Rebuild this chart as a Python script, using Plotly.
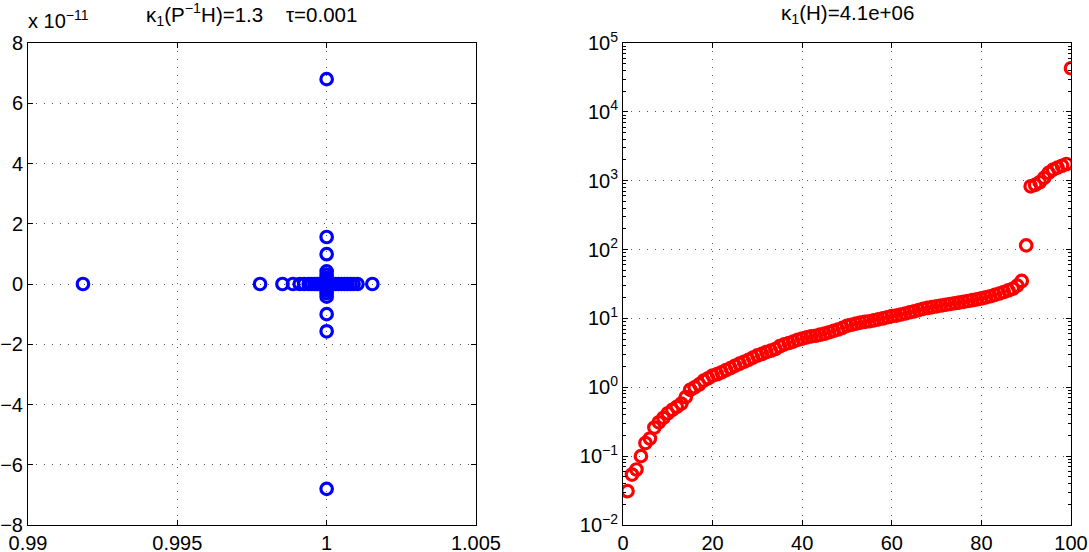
import plotly.graph_objects as go

# ---------------- data ----------------
# Left panel: eigenvalues of P^-1 H (real part, imaginary part in units of 1e-11)
eig_real = [0.99184, 0.99777, 0.99852, 0.99887, 0.99910, 0.99925, 0.99940, 0.99950,
            0.99960, 0.99968, 0.99975, 0.99980, 0.99985, 0.99990, 0.99995, 1.00000,
            1.00005, 1.00010, 1.00015, 1.00020, 1.00030, 1.00040, 1.00050, 1.00060,
            1.00070, 1.00080, 1.00090, 1.00103, 1.00153,
            1.0, 1.0, 1.0, 1.0, 1.0, 1.0, 1.0, 1.0, 1.0, 1.0, 1.0, 1.0, 1.0, 1.0, 1.0, 1.0]
eig_imag = [0.0] * 29 + [6.8, 1.56, 0.99, 0.42, 0.30, 0.20, 0.12, 0.06,
                         -0.06, -0.12, -0.20, -0.30, -0.42, -1.0, -1.57, -6.8]

# Right panel: sorted eigenvalues of H
h_index = list(range(1, 101))
h_eigs = [0.031, 0.054, 0.064, 0.10, 0.155, 0.18, 0.26, 0.31, 0.36, 0.42,
          0.47, 0.52, 0.58, 0.72, 0.92, 1.0, 1.1, 1.25, 1.35, 1.48,
          1.55, 1.65, 1.78, 1.9, 2.05, 2.2, 2.35, 2.5, 2.7, 2.9,
          3.05, 3.25, 3.4, 3.6, 3.95, 4.2, 4.4, 4.6, 4.9, 5.1,
          5.3, 5.5, 5.6, 5.8, 6.0, 6.3, 6.6, 6.9, 7.3, 7.8,
          8.1, 8.4, 8.7, 8.9, 9.1, 9.4, 9.7, 10.0, 10.4, 10.8,
          11.0, 11.4, 11.8, 12.3, 12.7, 13.2, 13.8, 14.2, 14.6, 15.0,
          15.4, 15.8, 16.2, 16.6, 17.0, 17.4, 17.9, 18.4, 18.9, 19.5,
          20.2, 21.0, 22.0, 23.0, 24.2, 25.5, 27.0, 30.0, 35.0, 115.0,
          830.0, 870.0, 950.0, 1100.0, 1300.0, 1450.0, 1550.0, 1650.0, 1750.0, 43000.0]

left_xticks = [0.99, 0.995, 1.0, 1.005]
left_xticktext = ["0.99", "0.995", "1", "1.005"]
left_yticks = [-8, -6, -4, -2, 0, 2, 4, 6, 8]
right_xticks = [0, 20, 40, 60, 80, 100]
right_yexps = [-2, -1, 0, 1, 2, 3, 4, 5]

left_title = "κ<sub>1</sub>(P<sup>−1</sup>H)=1.3&nbsp;&nbsp;&nbsp;&nbsp;τ=0.001"
right_title = "κ<sub>1</sub>(H)=4.1e+06"
left_scale = "x 10<sup>−11</sup>"

# ---------------- figure ----------------
FONT = "Liberation Sans, Arial, Helvetica, sans-serif"
fig = go.Figure()

fig.add_trace(go.Scatter(
    x=eig_real, y=eig_imag, mode="markers", xaxis="x", yaxis="y",
    marker=dict(symbol="circle-open", size=11.5, color="#0000ff",
                line=dict(width=3.2, color="#0000ff")),
    showlegend=False, hoverinfo="skip"))

fig.add_trace(go.Scatter(
    x=h_index, y=h_eigs, mode="markers", xaxis="x2", yaxis="y2",
    marker=dict(symbol="circle-open", size=11.5, color="#ff0000",
                line=dict(width=3.2, color="#ff0000")),
    showlegend=False, hoverinfo="skip"))

axis_common = dict(
    showline=True, linecolor="black", linewidth=1, mirror="ticks",
    ticks="inside", ticklen=5, tickcolor="black", tickwidth=1,
    showgrid=True, gridcolor="rgba(0,0,0,0.65)", gridwidth=1, griddash="1px,7px",
    zeroline=False, automargin=False,
    tickfont=dict(family=FONT, size=20, color="black"),
)

minor_vals = [m * 10 ** e for e in range(-2, 5) for m in range(2, 10)]

fig.update_layout(
    width=1089, height=552, template="none",
    paper_bgcolor="white", plot_bgcolor="white",
    margin=dict(l=28, r=18, t=43, b=27),
    font=dict(family=FONT, size=20, color="black"),
    xaxis=dict(domain=[0, 0.4295], range=[0.99, 1.005], tickvals=left_xticks,
               ticktext=left_xticktext, anchor="y", **axis_common),
    yaxis=dict(domain=[0, 1], range=[-8, 8], tickvals=left_yticks,
               ticktext=[str(v).replace("-", "−") for v in left_yticks],
               anchor="x", **axis_common),
    xaxis2=dict(domain=[0.5705, 1], range=[0, 100], tickvals=right_xticks,
                anchor="y2", **axis_common),
    yaxis2=dict(domain=[0, 1], type="log", range=[-2, 5],
                tickvals=[10 ** e for e in right_yexps],
                ticktext=["10<sup>%s</sup>" % str(e).replace("-", "−") for e in right_yexps],
                anchor="x2",
                minor=dict(ticks="inside", ticklen=3, tickcolor="black",
                           tickvals=minor_vals, showgrid=False),
                **axis_common),
    annotations=[
        dict(text=left_title, xref="x domain", yref="paper", x=0.5, y=1,
             xanchor="center", yanchor="middle", yshift=29, showarrow=False,
             font=dict(family=FONT, size=20.5, color="black")),
        dict(text=right_title, xref="x2 domain", yref="paper", x=0.5, y=1,
             xanchor="center", yanchor="middle", yshift=29, showarrow=False,
             font=dict(family=FONT, size=20.5, color="black")),
        dict(text=left_scale, xref="paper", yref="paper", x=0, y=1,
             xanchor="left", yanchor="middle", yshift=24, xshift=-2, showarrow=False,
             font=dict(family=FONT, size=20, color="black")),
    ],
)

fig.write_html("out.html")
